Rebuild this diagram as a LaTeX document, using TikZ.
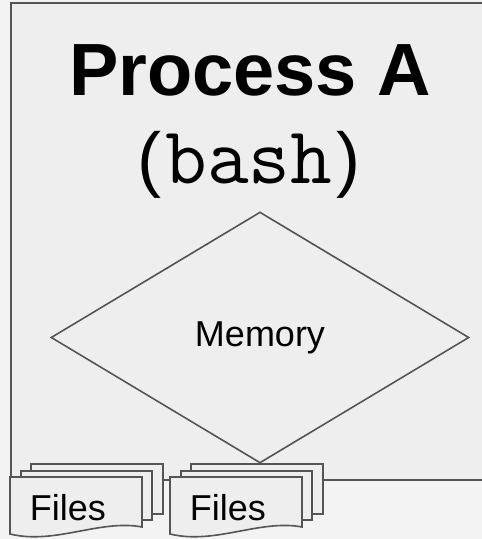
\documentclass[tikz,border=0pt]{standalone}
\usepackage{fontspec}
\setmainfont{Liberation Sans}
\usetikzlibrary{shapes.geometric}
\definecolor{procfill}{HTML}{EEEEEE}
\definecolor{outside}{HTML}{F3F3F3}
\definecolor{stroke}{HTML}{555555}
\begin{document}
\begin{tikzpicture}[x=1pt,y=-1pt]
\tikzset{proc/.style = {draw=stroke,fill=procfill,line width=1.6pt}}
\tikzset{mem/.style = {shape=diamond,draw=stroke,line width=1.6pt,inner sep=0pt,
  minimum width=418pt,minimum height=251pt,font=\fontsize{36}{40}\selectfont}}
\tikzset{page/.style = {draw=stroke,fill=procfill,line width=1.6pt}}
\tikzset{lbl/.style = {anchor=base,inner sep=0pt,font=\fontsize{36}{40}\selectfont}}
\fill[outside] (0,0) rectangle (482,539);
\useasboundingbox (0,0) rectangle (482,539);
\clip (0,0) rectangle (482,539);
%\draw (0,0) rectangle (482,539);
\draw[proc] (11,3) rectangle (495,480);
\node[anchor=base,inner sep=0pt,font=\fontsize{74}{80}\selectfont\bfseries] (title) at (250,95) {Process A};
\node[anchor=base,inner sep=0pt,font=\fontsize{72}{76}\selectfont] (cmd) at (249,183)
  {(\kern4pt{\fontsize{81}{80}\ttfamily bash}\kern4pt)};
\node[mem] (memory) at (260,337.5) {Memory};
% two stacks of files
\foreach \x/\n in {0/filesA,160/filesB} {
  \draw[page] (31+\x,464) rectangle (163+\x,514);
  \draw[page] (21+\x,471) rectangle (152+\x,520);
  \draw[page] (10+\x,477) -- (142+\x,477) -- (142+\x,527)
    .. controls (100+\x,519) and (55+\x,545) .. (10+\x,534) -- cycle;
  \node[lbl] (\n) at (68+\x,520) {Files};
}
\end{tikzpicture}
\end{document}
